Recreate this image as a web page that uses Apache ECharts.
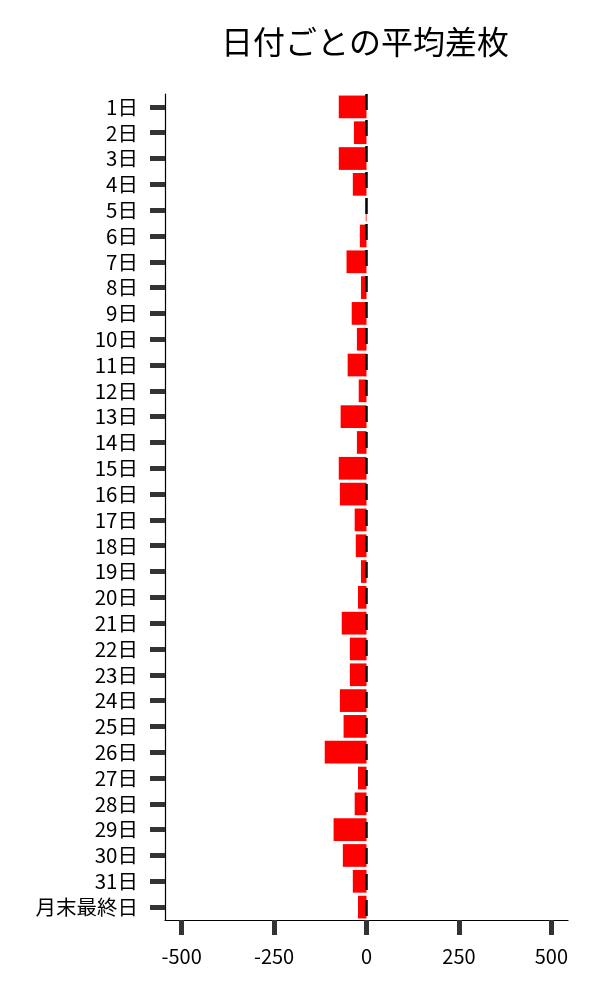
<!DOCTYPE html>
<html><head><meta charset="utf-8">
<script src="https://cdn.jsdelivr.net/npm/echarts@6/dist/echarts.min.js"></script>
<style>html,body{margin:0;padding:0;background:#fff}#c{width:600px;height:1000px}</style>
</head><body><div id="c"></div>
<script>
const categories = ['1日','2日','3日','4日','5日','6日','7日','8日','9日','10日','11日','12日','13日','14日','15日','16日','17日','18日','19日','20日','21日','22日','23日','24日','25日','26日','27日','28日','29日','30日','31日','月末最終日'];
const values = [-75,-34,-75,-37,-2,-18,-54,-15,-40,-26,-51,-21,-70,-26,-75,-72,-32,-29,-15,-23,-67,-45,-45,-72,-62,-113,-23,-32,-89,-64,-37,-23];
const xTicks = [-500,-250,0,250,500];
const font = '"Noto Sans CJK JP", "Noto Sans", sans-serif';
const chart = echarts.init(document.getElementById('c'));
chart.setOption({
  animation:false,
  title:{text:'日付ごとの平均差枚',left:360,top:21,textAlign:'center',textStyle:{fontFamily:font,fontSize:32,fontWeight:'normal',color:'#000'}},
  grid:{left:165,right:32,top:94,bottom:80,containLabel:false},
  xAxis:{type:'value',min:-545,max:545,
    axisLine:{show:true,onZero:false,lineStyle:{color:'#000',width:1.2}},
    axisTick:{show:true,customValues:xTicks,length:15,lineStyle:{color:'#333',width:5}},
    axisLabel:{customValues:xTicks,fontFamily:font,fontSize:20,color:'#000',margin:26},
    splitLine:{show:false}},
  yAxis:{type:'category',data:categories,inverse:true,
    axisLine:{show:true,onZero:false,lineStyle:{color:'#000',width:1.2}},
    axisTick:{show:true,interval:0,alignWithLabel:true,length:15,lineStyle:{color:'#333',width:5}},
    axisLabel:{interval:0,fontFamily:font,fontSize:20.5,color:'#000',margin:27}},
  series:[{type:'bar',data:values,barCategoryGap:'12%',itemStyle:{color:'#ff0000'},
    markLine:{silent:true,symbol:['none','none'],label:{show:false},
      lineStyle:{color:'#000',type:[16,10],width:2.5},data:[{xAxis:0}]}}]
});
</script></body></html>
